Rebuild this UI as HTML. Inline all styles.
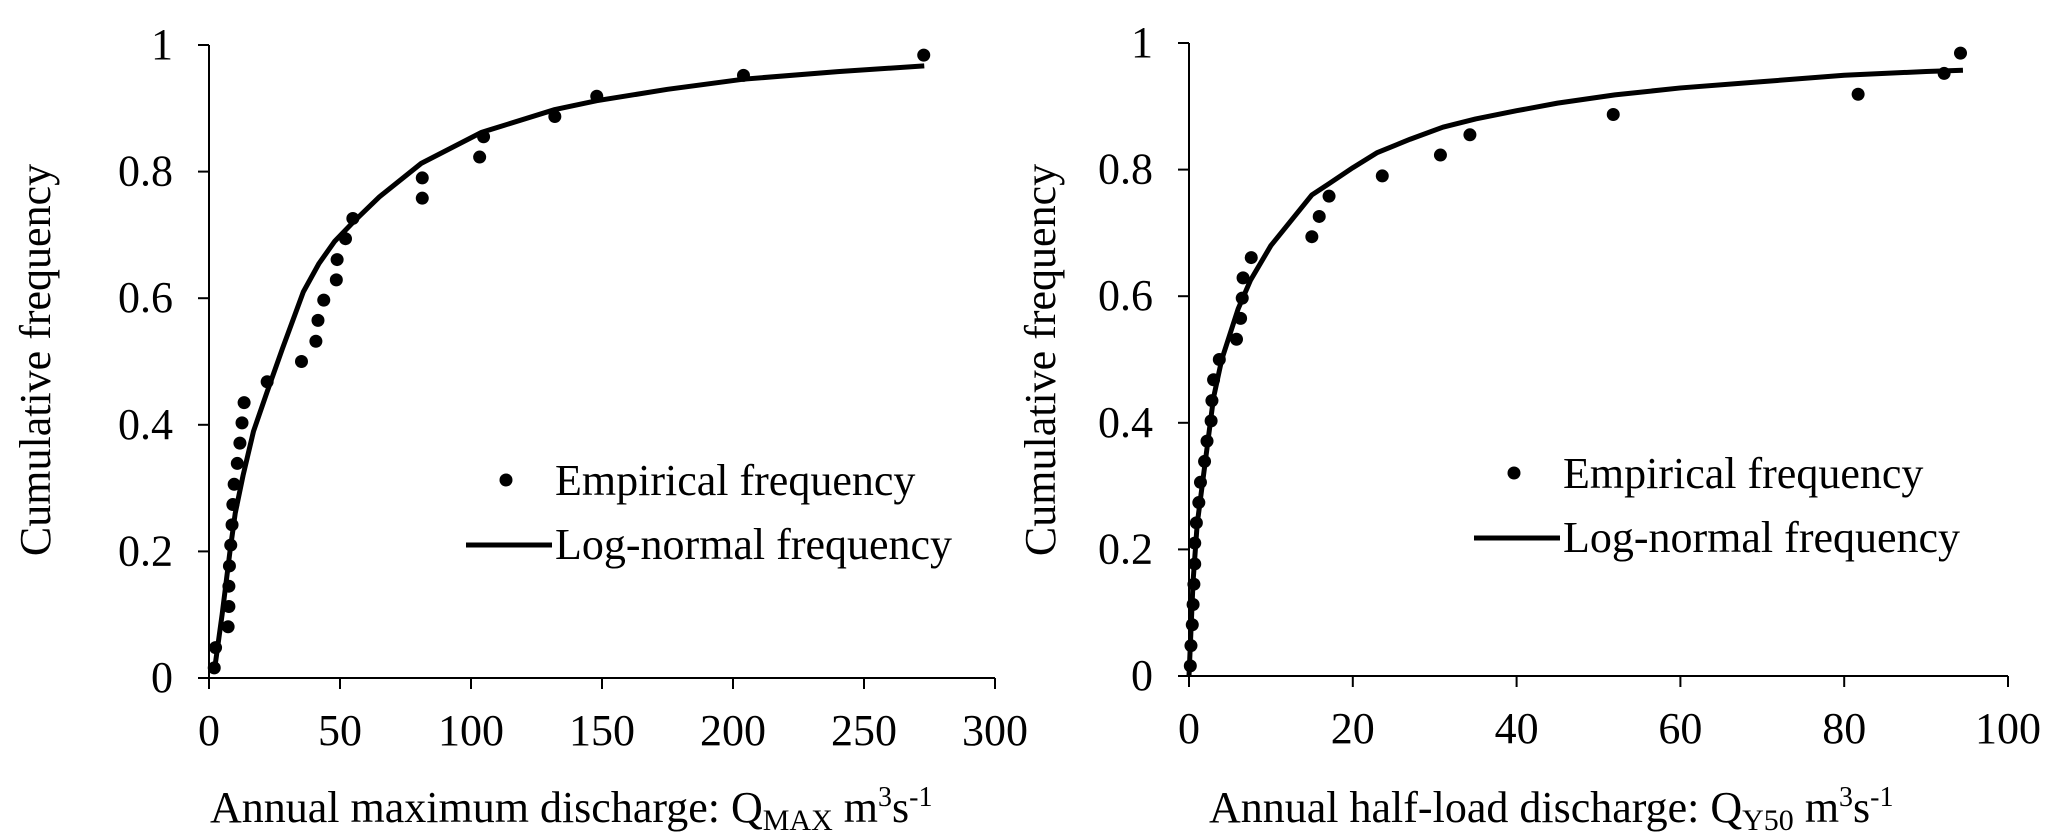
<!DOCTYPE html>
<html><head><meta charset="utf-8"><style>
html,body{margin:0;padding:0;background:#fff;}
svg{display:block;font-family:"Liberation Serif",serif;}
</style></head><body>
<svg id="chart" width="2067" height="837" viewBox="0 0 2067 837" xmlns="http://www.w3.org/2000/svg"></svg>
<script>
// Left panel data
const leftXTicks = [0,50,100,150,200,250,300];
const leftEmpX = [2,2.5,7.3,7.6,7.6,7.8,8.3,8.8,9.1,9.6,10.8,11.8,12.6,13.4,22.2,35.3,40.8,41.6,43.8,48.6,48.9,52.1,54.9,81.4,81.4,103.3,104.8,132,148,204,272.8];
const leftEmpY = [0.016,0.048,0.081,0.113,0.145,0.177,0.21,0.242,0.274,0.306,0.339,0.371,0.403,0.435,0.468,0.5,0.532,0.565,0.597,0.629,0.661,0.694,0.726,0.758,0.79,0.823,0.855,0.887,0.919,0.952,0.984];
const leftFitX = [2,5,8,10,13,17,22,28,36,42,48,55,65,81,104,132,148,175,204,240,273];
const leftFitY = [0.01,0.1,0.2,0.26,0.32,0.39,0.45,0.52,0.61,0.655,0.69,0.72,0.76,0.813,0.862,0.898,0.912,0.93,0.946,0.958,0.967];
// Right panel data
const rightXTicks = [0,20,40,60,80,100];
const rightEmpX = [0.16,0.24,0.4,0.5,0.6,0.7,0.7,0.9,1.2,1.4,1.9,2.2,2.7,2.8,3.0,3.7,5.8,6.3,6.5,6.6,7.6,15.0,15.9,17.1,23.6,30.7,34.3,51.8,81.7,92.2,94.2];
const rightEmpY = [0.016,0.048,0.081,0.113,0.145,0.177,0.21,0.242,0.274,0.306,0.339,0.371,0.403,0.435,0.468,0.5,0.532,0.565,0.597,0.629,0.661,0.694,0.726,0.758,0.79,0.823,0.855,0.887,0.919,0.952,0.984];
const rightFitX = [0,0.5,1,2,3,4,6,7.5,10,15,17,20,23,27,31,35,40,45,52,60,70,80,90,94.5];
const rightFitY = [0,0.15,0.24,0.34,0.44,0.5,0.58,0.625,0.68,0.76,0.777,0.803,0.827,0.848,0.867,0.88,0.893,0.905,0.918,0.929,0.939,0.949,0.955,0.957];
const yTicks = [0,0.2,0.4,0.6,0.8,1];
const yTickLabels = ["0","0.2","0.4","0.6","0.8","1"];

const NS="http://www.w3.org/2000/svg";
const svg=document.getElementById('chart');
function mk(tag,attrs,parent){const e=document.createElementNS(NS,tag);for(const k in attrs)e.setAttribute(k,attrs[k]);(parent||svg).appendChild(e);return e;}

function panel(p){
  const g=mk('g',{});
  
  
  const sx=v=>p.x0+(v-p.xmin)/(p.xmax-p.xmin)*(p.x1-p.x0);
  const sy=v=>p.y0-v*(p.y0-p.y1);
  const ya=mk('line',{x1:p.x0,y1:p.y1,x2:p.x0,y2:p.y0,stroke:'#000','stroke-width':2},g);
  
  
  const xa=mk('line',{x1:p.x0-11,y1:p.y0,x2:p.x1,y2:p.y0,stroke:'#000','stroke-width':2},g);
  
  
  yTicks.forEach((t,i)=>{
    const y=sy(t);
    mk('line',{x1:p.x0-11,y1:y,x2:p.x0,y2:y,stroke:'#000','stroke-width':2},g);
    const tx=mk('text',{x:p.x0-36,y:y+14,'text-anchor':'end','font-size':44},g);
    tx.textContent=yTickLabels[i];
    
    
  });
  p.xticks.forEach(t=>{
    const x=sx(t);
    mk('line',{x1:x,y1:p.y0,x2:x,y2:p.y0+11,stroke:'#000','stroke-width':2},g);
    const tx=mk('text',{x:x,y:p.y0+67,'text-anchor':'middle','font-size':44},g);
    tx.textContent=String(t);
    
    
  });
  const pts=p.fx.map((v,i)=>sx(v)+','+sy(p.fy[i])).join(' ');
  const pl=mk('polyline',{points:pts,fill:'none',stroke:'#000','stroke-width':5,'stroke-linejoin':'round'},g);
  
  
  p.ex.forEach((v,i)=>{
    const c=mk('circle',{cx:sx(v),cy:sy(p.ey[i]),r:6.5,fill:'#000'},g);
    
    
  });
  const yt=mk('text',{x:0,y:0,'font-size':44,'text-anchor':'middle',transform:`translate(${p.ytx},${p.yty}) rotate(-90)`},g);
  yt.textContent='Cumulative frequency';
  
  
  const xt=mk('text',{x:p.xtx,y:822,'font-size':44},g);
  
  
  const s1=mk('tspan',{},xt);s1.textContent=p.xtitle+' Q';
  const s2=mk('tspan',{'font-size':30,dy:8},xt);s2.textContent=p.sub;
  const s3=mk('tspan',{dy:-8},xt);s3.textContent=' m';
  const s4=mk('tspan',{'font-size':28,dy:-16},xt);s4.textContent='3';
  const s5=mk('tspan',{dy:16},xt);s5.textContent='s';
  const s6=mk('tspan',{'font-size':28,dy:-16},xt);s6.textContent='-1';
  const lg=mk('g',{},g);
  
  
  const ld=mk('circle',{cx:p.lgx+20,cy:p.lgy,r:6.5,fill:'#000'},lg);
  
  
  const l1=mk('text',{x:p.lgx+69,y:p.lgy+15,'font-size':44},lg);
  l1.textContent='Empirical frequency';
  
  
  const ll=mk('line',{x1:p.lgx-20,y1:p.lgy+65,x2:p.lgx+66,y2:p.lgy+65,stroke:'#000','stroke-width':5},lg);
  
  
  const l2=mk('text',{x:p.lgx+69,y:p.lgy+79,'font-size':44},lg);
  l2.textContent='Log-normal frequency';
  
  
}

panel({name:'left-panel',x0:209,x1:995,y0:678,y1:45,xmin:0,xmax:300,xticks:leftXTicks,
  ex:leftEmpX,ey:leftEmpY,fx:leftFitX,fy:leftFitY,ytx:50,yty:360,xtx:210,
  xtitle:'Annual maximum discharge:',sub:'MAX',lgx:486,lgy:480});
panel({name:'right-panel',x0:1189,x1:2008,y0:676,y1:43,xmin:0,xmax:100,xticks:rightXTicks,
  ex:rightEmpX,ey:rightEmpY,fx:rightFitX,fy:rightFitY,ytx:1055,yty:360,xtx:1209,
  xtitle:'Annual half-load discharge:',sub:'Y50',lgx:1494,lgy:473});
</script>
</body></html>
